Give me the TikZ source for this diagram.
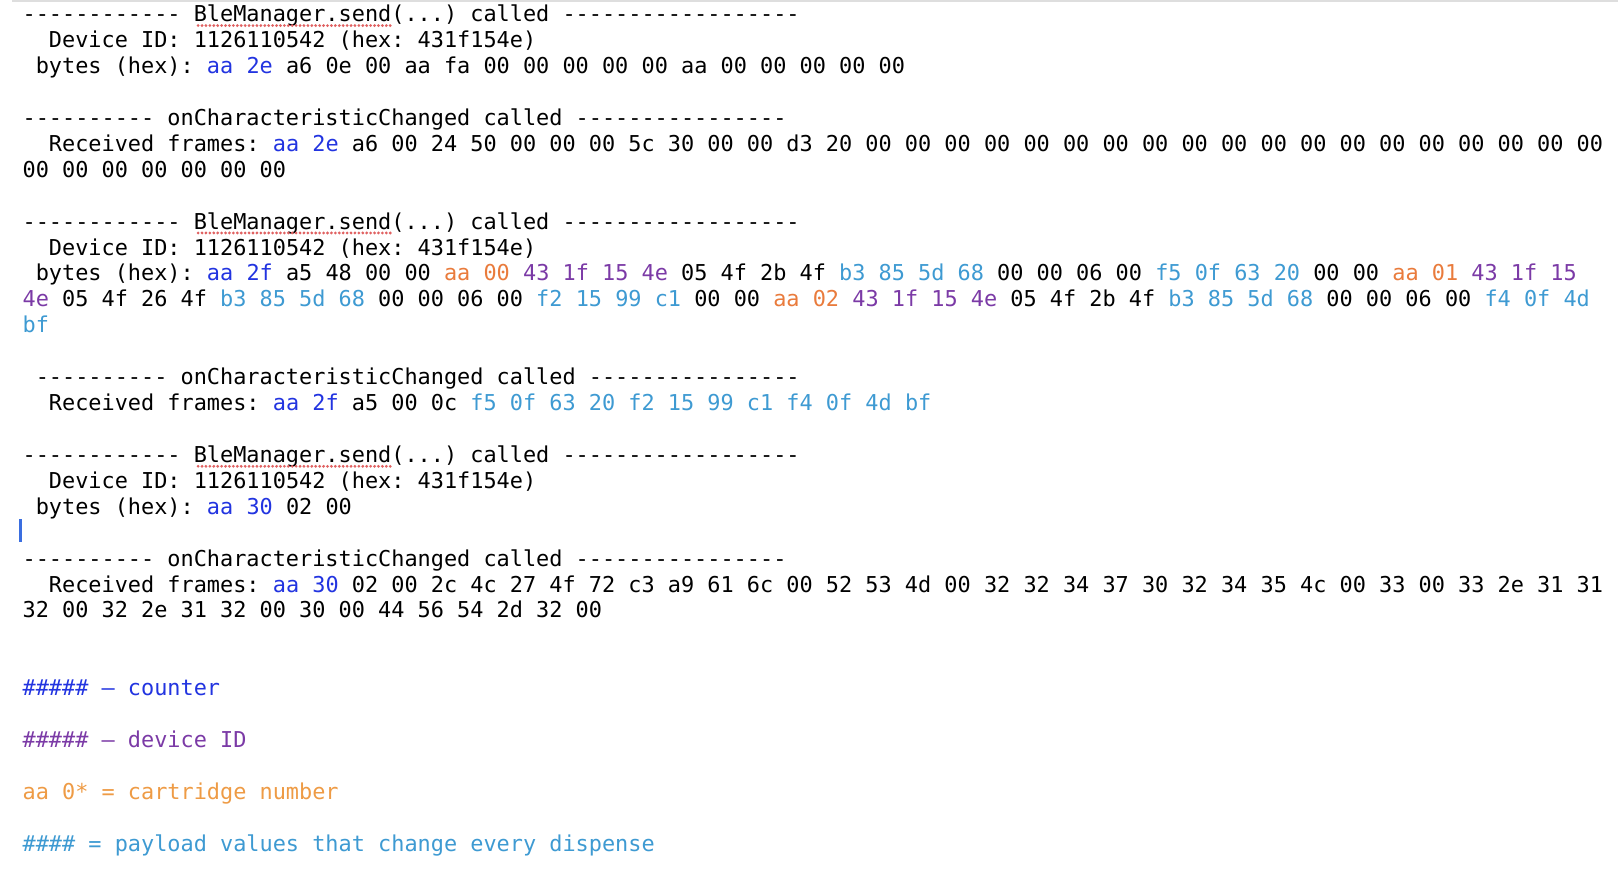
\documentclass[tikz,border=0pt]{standalone}
\usepackage{fontspec}
\setmonofont{DejaVu Sans Mono}
\definecolor{ctrblue}{HTML}{2234E0}
\definecolor{devpurple}{HTML}{7B3AA6}
\definecolor{cartorange}{HTML}{E97B3C}
\definecolor{legorange}{HTML}{EE9B45}
\definecolor{payblue}{HTML}{3E9AD2}
\definecolor{squig}{HTML}{E06262}
\definecolor{cursorblue}{HTML}{3A6EE0}
\newcommand\ctr[1]{\textcolor{ctrblue}{#1}}
\newcommand\dev[1]{\textcolor{devpurple}{#1}}
\newcommand\crt[1]{\textcolor{cartorange}{#1}}
\newcommand\pay[1]{\textcolor{payblue}{#1}}
\newcommand\sendhead{------------ BleManager.send(...) called ------------------}
\newcommand\chghead{---------- onCharacteristicChanged called ----------------}
\newcommand\devline{Device ID: 1126110542 (hex: 431f154e)}
\begin{document}
\begin{tikzpicture}[x=6.385pt,y=-12.5625pt]
	\tikzset{logline/.style={anchor=base west,inner sep=0pt,font=\ttfamily\fontsize{10.6pt}{12pt}\selectfont}}
	\useasboundingbox (-10.75pt,10.5pt) rectangle (773.25pt,-412pt);
	\fill [black!13] (-4.75pt,10.5pt) rectangle (773.25pt,9.5pt);
	% first send
	\node [logline] (send1) at (0,0) {\sendhead};
	\node [logline] (id1) at (2,1) {\devline};
	\node [logline] (bytes1) at (1,2) {bytes (hex): \ctr{aa 2e} a6 0e 00 aa fa 00 00 00 00 00 aa 00 00 00 00 00};
	\node [logline] (chg1) at (0,4) {\chghead};
	\node [logline] (recv1) at (2,5) {Received frames: \ctr{aa 2e} a6 00 24 50 00 00 00 5c 30 00 00 d3 20 00 00 00 00 00 00 00 00 00 00 00 00 00 00 00 00 00 00 00};
	\node [logline] (recv1b) at (0,6) {00 00 00 00 00 00 00};
	% second send
	\node [logline] (send2) at (0,8) {\sendhead};
	\node [logline] (id2) at (2,9) {\devline};
	\node [logline] (bytes2) at (1,10) {bytes (hex): \ctr{aa 2f} a5 48 00 00 \crt{aa 00} \dev{43 1f 15 4e} 05 4f 2b 4f \pay{b3 85 5d 68} 00 00 06 00 \pay{f5 0f 63 20} 00 00 \crt{aa 01} \dev{43 1f 15}};
	\node [logline] (bytes2b) at (0,11) {\dev{4e} 05 4f 26 4f \pay{b3 85 5d 68} 00 00 06 00 \pay{f2 15 99 c1} 00 00 \crt{aa 02} \dev{43 1f 15 4e} 05 4f 2b 4f \pay{b3 85 5d 68} 00 00 06 00 \pay{f4 0f 4d}};
	\node [logline] (bytes2c) at (0,12) {\pay{bf}};
	\node [logline] (chg2) at (1,14) {\chghead};
	\node [logline] (recv2) at (2,15) {Received frames: \ctr{aa 2f} a5 00 0c \pay{f5 0f 63 20 f2 15 99 c1 f4 0f 4d bf}};
	% third send
	\node [logline] (send3) at (0,17) {\sendhead};
	\node [logline] (id3) at (2,18) {\devline};
	\node [logline] (bytes3) at (1,19) {bytes (hex): \ctr{aa 30} 02 00};
	\draw [cursorblue,line width=1.1pt] (-0.12,19.2) -- (-0.12,20.08);
	\node [logline] (chg3) at (0,21) {\chghead};
	\node [logline] (recv3) at (2,22) {Received frames: \ctr{aa 30} 02 00 2c 4c 27 4f 72 c3 a9 61 6c 00 52 53 4d 00 32 32 34 37 30 32 34 35 4c 00 33 00 33 2e 31 31};
	\node [logline] (recv3b) at (0,23) {32 00 32 2e 31 32 00 30 00 44 56 54 2d 32 00};
	% spell-check marks
	\foreach \k in {0,8,17}
		\draw [squig,line width=1.5pt,line cap=round,dash pattern=on 0pt off 1.9pt] (13.35,\k+0.15) -- (28,\k+0.15);
	% legend
	\node [logline,text=ctrblue] (legctr) at (0,26) {\#\#\#\#\# – counter};
	\node [logline,text=devpurple] (legdev) at (0,28) {\#\#\#\#\# – device ID};
	\node [logline,text=legorange] (legcrt) at (0,30) {aa 0* = cartridge number};
	\node [logline,text=payblue] (legpay) at (0,32) {\#\#\#\# = payload values that change every dispense};
\end{tikzpicture}
\end{document}
